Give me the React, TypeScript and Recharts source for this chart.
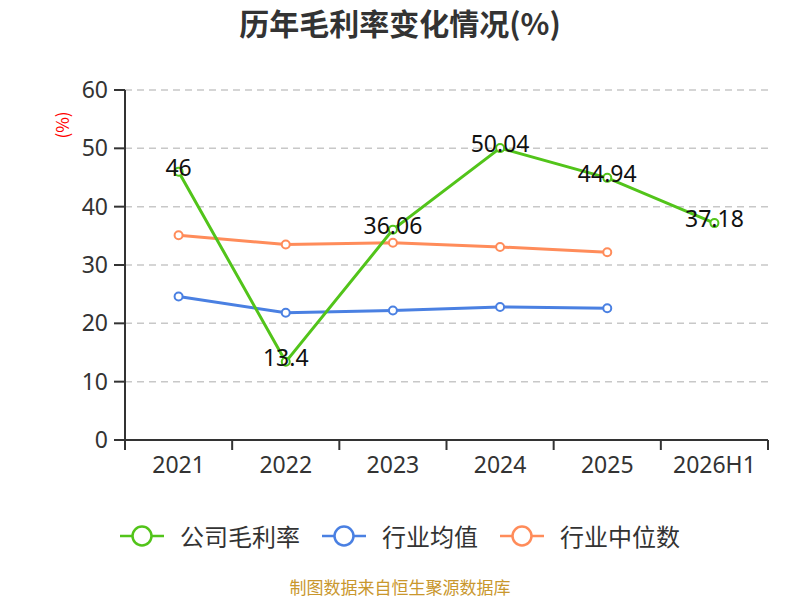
import React from "react";
import { CartesianGrid, ComposedChart, LabelList, Line, XAxis, YAxis } from "recharts";

const years = ["2021", "2022", "2023", "2024", "2025", "2026H1"];
const companyMargin = [46, 13.4, 36.06, 50.04, 44.94, 37.18];
const industryAvg = [24.6, 21.8, 22.2, 22.8, 22.6, null];
const industryMedian = [35.1, 33.5, 33.8, 33.1, 32.2, null];
const yTicks = [0, 10, 20, 30, 40, 50, 60];

const series = [
  { key: "company", name: "公司毛利率", color: "#52c41a" },
  { key: "avg", name: "行业均值", color: "#4a80e2" },
  { key: "median", name: "行业中位数", color: "#ff8c5a" },
];

const data = years.map((year, i) => ({
  year,
  company: companyMargin[i],
  avg: industryAvg[i],
  median: industryMedian[i],
}));

const FONT = "'Noto Sans CJK SC', 'Noto Sans', sans-serif";
const NUM_FONT = "'Noto Sans', 'Noto Sans CJK SC', sans-serif";
const W = 800;
const H = 600;
const margin = { top: 90, right: 32, bottom: 120, left: 65 };
const Y_WIDTH = 60;
const band = (W - margin.left - margin.right - Y_WIDTH) / years.length;

function XTick(props: any) {
  const { x, y, payload, index } = props;
  const left = x - band / 2;
  return (
    <g>
      <line x1={left} y1={y - 8} x2={left} y2={y + 2} stroke="#333" strokeWidth={2} />
      {index === years.length - 1 && (
        <line x1={x + band / 2} y1={y - 8} x2={x + band / 2} y2={y + 2} stroke="#333" strokeWidth={2} />
      )}
      <text x={x} y={y + 19} textAnchor="middle" dominantBaseline="middle" fontSize={23} fill="#333" fontFamily={NUM_FONT}>
        {payload.value}
      </text>
    </g>
  );
}

function ValueLabel(props: any) {
  const { x, y, value } = props;
  if (value == null) return null;
  return (
    <text x={x} y={y - 2} textAnchor="middle" dominantBaseline="middle" fontSize={23} fill="#111" fontFamily={NUM_FONT}>
      {value}
    </text>
  );
}

function LegendRow() {
  return (
    <div
      style={{
        position: "absolute",
        top: 518,
        left: 0,
        width: W,
        display: "flex",
        justifyContent: "center",
        alignItems: "center",
        fontFamily: FONT,
        fontSize: 24,
        color: "#333",
      }}
    >
      {series.map((s) => (
        <div key={s.key} style={{ display: "flex", alignItems: "center", margin: "0 11px" }}>
          <svg width={44} height={26} style={{ marginRight: 16 }}>
            <line x1={0} y1={13} x2={44} y2={13} stroke={s.color} strokeWidth={2.5} />
            <circle cx={22} cy={13} r={9.5} fill="#fff" stroke={s.color} strokeWidth={2.5} />
          </svg>
          <span>{s.name}</span>
        </div>
      ))}
    </div>
  );
}

export default function App() {
  return (
    <div style={{ position: "absolute", left: 0, top: 0, width: W, height: H, background: "#fff", overflow: "hidden" }}>
      <div
        style={{
          position: "absolute",
          top: 2,
          left: 0,
          width: W,
          height: 40,
          lineHeight: "40px",
          textAlign: "center",
          fontFamily: FONT,
          fontSize: 30,
          fontWeight: "bold",
          color: "#333",
        }}
      >
        历年毛利率变化情况(%)
      </div>
      <div
        style={{
          position: "absolute",
          left: 47,
          top: 115,
          width: 30,
          height: 20,
          textAlign: "center",
          lineHeight: "20px",
          transform: "rotate(-90deg)",
          fontFamily: FONT,
          fontSize: 17,
          color: "#ff0000",
        }}
      >
        (%)
      </div>
      <ComposedChart width={W} height={H} data={data} margin={margin}>
        <CartesianGrid vertical={false} stroke="#c8c8c8" strokeDasharray="7 5" strokeWidth={1.5} />
        <XAxis
          dataKey="year"
          height={40}
          padding={{ left: band / 2, right: band / 2 }}
          axisLine={{ stroke: "#333", strokeWidth: 2 }}
          tickLine={false}
          tick={<XTick />}
          interval={0}
        />
        <YAxis
          width={Y_WIDTH}
          domain={[0, 60]}
          ticks={yTicks}
          interval={0}
          axisLine={{ stroke: "#333", strokeWidth: 2 }}
          tickLine={{ stroke: "#333", strokeWidth: 2 }}
          tickSize={11}
          tickMargin={6}
          tick={{ fontSize: 23, fill: "#333", fontFamily: NUM_FONT }}
        />
        <Line
          dataKey="median"
          name="行业中位数"
          stroke="#ff8c5a"
          strokeWidth={3}
          dot={{ r: 4, fill: "#fff", stroke: "#ff8c5a", strokeWidth: 2 }}
          isAnimationActive={false}
        />
        <Line
          dataKey="avg"
          name="行业均值"
          stroke="#4a80e2"
          strokeWidth={3}
          dot={{ r: 4, fill: "#fff", stroke: "#4a80e2", strokeWidth: 2 }}
          isAnimationActive={false}
        />
        <Line
          dataKey="company"
          name="公司毛利率"
          stroke="#52c41a"
          strokeWidth={3}
          dot={{ r: 4, fill: "#fff", stroke: "#52c41a", strokeWidth: 2 }}
          isAnimationActive={false}
        >
          <LabelList dataKey="company" content={<ValueLabel />} />
        </Line>
      </ComposedChart>
      <LegendRow />
      <div
        style={{
          position: "absolute",
          top: 577,
          left: 0,
          width: W,
          height: 20,
          lineHeight: "20px",
          textAlign: "center",
          fontFamily: FONT,
          fontSize: 17,
          color: "#c9972d",
        }}
      >
        制图数据来自恒生聚源数据库
      </div>
    </div>
  );
}
